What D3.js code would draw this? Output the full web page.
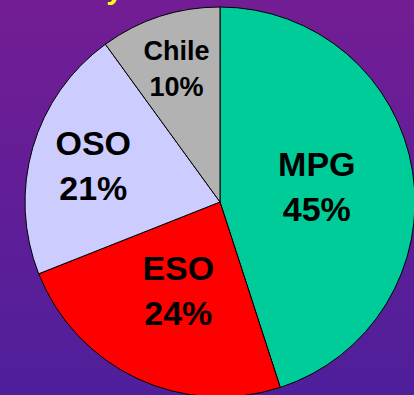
<!DOCTYPE html>
<html>
<head>
<meta charset="utf-8">
<script src="https://cdn.jsdelivr.net/npm/d3@7"></script>
<style>
  html, body { margin: 0; padding: 0; overflow: hidden; }
</style>
</head>
<body>
<div id="chart"></div>
<script>
// share of observing time

var categories = ['MPG', 'ESO', 'OSO', 'Chile'];
var shares = [45, 24, 21, 10];
var sliceColors = ['#00cc99', '#ff0000', '#ccccff', '#b2b2b2'];

const chartWidth = 414;
const chartHeight = 395;

const cx = 220;
const cy = 202;
const radius = 195;

// how far out each label block sits (pixels from centre)
var labelRadius = { MPG: 98, ESO: 98, OSO: 132, Chile: 141 };

var svg = d3.select('#chart').append('svg')
    .attr('width', chartWidth)
    .attr('height', chartHeight);

// background
var defs = svg.append('defs');
var grad = defs.append('linearGradient')
    .attr('id', 'bg')
    .attr('x1', 0).attr('y1', 0)
    .attr('x2', 0).attr('y2', 1);
grad.append('stop').attr('offset', '0%').attr('stop-color', '#731d94');
grad.append('stop').attr('offset', '100%').attr('stop-color', '#4f1f9b');

svg.append('rect')
    .attr('width', '100%')
    .attr('height', '100%')
    .attr('fill', 'url(#bg)');

// title sits above the frame, only the tail of the y shows
svg.append('text')
    .attr('x', 123)
    .attr('y', -1)
    .attr('text-anchor', 'end')
    .attr('font-family', 'Liberation Sans, Arial, sans-serif')
    .attr('font-weight', 'bold')
    .attr('font-size', 30)
    .attr('fill', '#ffff00')
    .text('Time share by');

var data = categories.map(function(c, i) {
    return { name: c, value: shares[i], color: sliceColors[i] };
});

var pie = d3.pie()
    .sort(null)
    .value(function(d) { return d.value; });

var arc = d3.arc()
    .innerRadius(0)
    .outerRadius(radius);

var g = svg.append('g')
    .attr('transform', 'translate(' + cx + ',' + cy + ')');

var arcs = pie(data);

g.selectAll('path')
    .data(arcs)
    .enter().append('path')
    .attr('d', arc)
    .attr('fill', function(d) { return d.data.color; })
    .attr('stroke', '#000')
    .attr('stroke-width', 1)
    .attr('stroke-linejoin', 'round');

// labels
arcs.forEach(function(d) {
    var name = d.data.name;
    var small = name === 'Chile';
    var fs = small ? 27 : 34;
    var gap = small ? 36 : 45;
    var r = labelRadius[name];
    var labelArc = d3.arc().innerRadius(r).outerRadius(r);
    var c = labelArc.centroid(d);
    var cap = fs * 0.716;
    // block is centred on c: first baseline + gap = second baseline
    var top = c[1] - (cap + gap) / 2;
    var t = g.append('text')
        .attr('text-anchor', 'middle')
        .attr('font-family', 'Liberation Sans, Arial, sans-serif')
        .attr('font-weight', 'bold')
        .attr('font-size', fs)
        .attr('fill', '#000');
    t.append('tspan')
        .attr('x', c[0])
        .attr('y', top + cap)
        .text(name);
    t.append('tspan')
        .attr('x', c[0])
        .attr('y', top + cap + gap)
        .text(d.data.value + '%');
});
</script>
</body>
</html>
